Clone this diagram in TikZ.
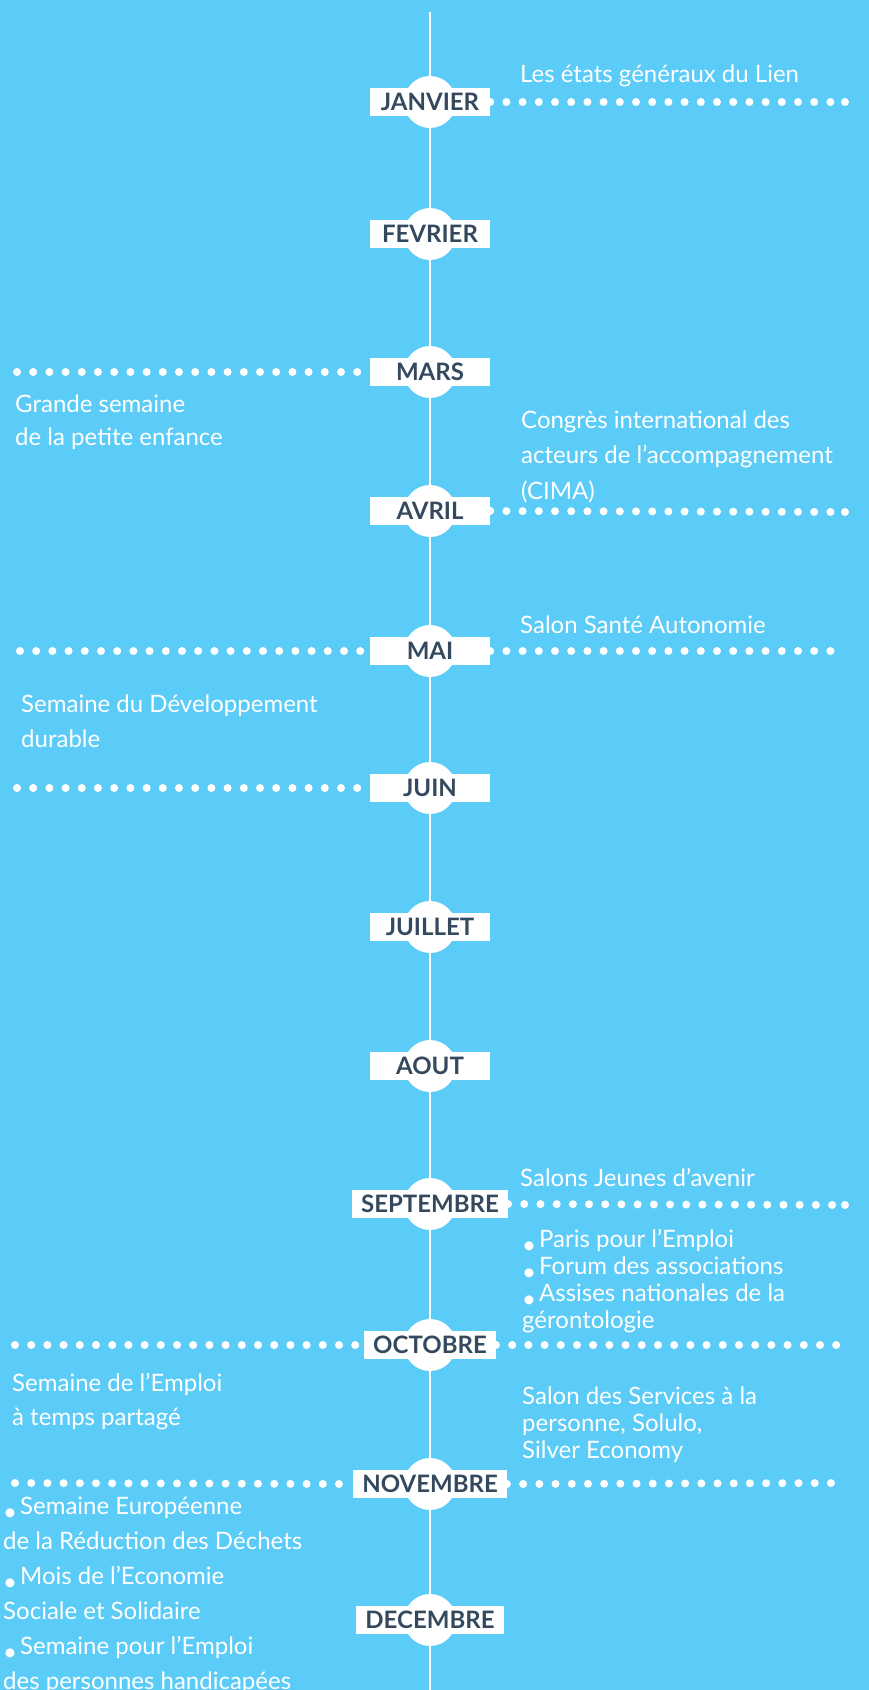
\documentclass[tikz,border=0pt]{standalone}
\usepackage{fontspec}
\setmainfont{Lato}
\usetikzlibrary{positioning, backgrounds}

\definecolor{sky}{HTML}{5BCBF7}
\definecolor{slate}{HTML}{34495E}

\newcommand{\bul}{\raisebox{-6pt}[0pt][0pt]{•}\hspace{3pt}}

\tikzset{
  month/.style={fill=white, text=slate, font=\bfseries\fontsize{24}{28}\selectfont,
    minimum width=120, minimum height=28, inner xsep=9, inner ysep=0},
  % multi-line texts are placed by the baseline of their last line
  evt/.style={text=white, font=\fontsize{24}{35}\selectfont, align=left,
    anchor=base west, inner sep=0},
  evttight/.style={evt, font=\fontsize{24}{26.7}\selectfont},
  dotline/.style={white, line width=8, line cap=round, dash pattern=on 0pt off 16.2pt},
}

\begin{document}
\begin{tikzpicture}[x=1pt, y=-1pt]
  \useasboundingbox (0,0) rectangle (869,1690);

  % Months
  \node[month] (jan) at (430,102) {JANVIER};
  \node[month] (feb) at (430,234) {FEVRIER};
  \node[month] (mar) at (430,372) {MARS};
  \node[month] (apr) at (430,511) {AVRIL};
  \node[month] (may) at (430,651) {MAI};
  \node[month] (jun) at (430,788) {JUIN};
  \node[month] (jul) at (430,927) {JUILLET};
  \node[month] (aug) at (430,1066) {AOUT};
  \node[month] (sep) at (430,1204) {SEPTEMBRE};
  \node[month] (oct) at (430,1345) {OCTOBRE};
  \node[month] (nov) at (430,1484) {NOVEMBRE};
  \node[month] (dec) at (430,1620) {DECEMBRE};

  % Background, timeline and discs
  \begin{scope}[on background layer]
    \fill[sky] (0,0) rectangle (869,1690);
    \coordinate (top) at (430,12);
    \coordinate (bottom) at (430,1690);
    \draw[white, line width=2] (top) -- (bottom);
    \foreach \m in {jan,feb,mar,apr,may,jun,jul,aug,sep,oct,nov,dec}
      \fill[white] (\m) circle (26pt);
  \end{scope}

  % Dotted connectors
  \coordinate (janR) at (845,102);
  \coordinate (marL) at (17,372);
  \coordinate (aprR) at (845,512);
  \coordinate (mayL) at (20,651);
  \coordinate (mayR) at (845,651);
  \coordinate (junL) at (17,788);
  \coordinate (sepR) at (845,1205);
  \coordinate (octL) at (15,1345);
  \coordinate (octR) at (845,1345);
  \coordinate (novL) at (15,1483);
  \coordinate (novR) at (840,1483);
  \draw[dotline] (jan.east) -- (janR);
  \draw[dotline] (marL) -- (mar.west);
  \draw[dotline] (apr.east) -- (aprR);
  \draw[dotline] (mayL) -- (may.west);
  \draw[dotline] (may.east) -- (mayR);
  \draw[dotline] (junL) -- (jun.west);
  \draw[dotline] (sep.east) -- (sepR);
  \draw[dotline] (octL) -- (oct.west);
  \draw[dotline] (oct.east) -- (octR);
  \draw[dotline] (novL) -- (nov.west);
  \draw[dotline] (nov.east) -- (novR);
  \fill[white] (janR) circle (4pt);
  \fill[white] (aprR) circle (4pt);
  \fill[white] (sepR) circle (4pt);

  % Events
  \node[evt] (etats) at (520,82) {Les états généraux du Lien};
  \node[evt, font=\fontsize{24}{33}\selectfont] (enfance) at (15,445)
    {Grande semaine\\de la petite enfance};
  \node[evt, font=\fontsize{24}{35.5}\selectfont] (cima) at (521,499)
    {Congrès international des\\acteurs de l'accompagnement\\(CIMA)};
  \node[evt] (sante) at (520,633) {Salon Santé Autonomie};
  \node[evt] (durable) at (21,747) {Semaine du Développement\\durable};
  \node[evt] (jeunes) at (520,1186) {Salons Jeunes d'avenir};
  \node[evttight] (forum) at (522,1328)
    {\bul Paris pour l'Emploi\\\bul Forum des associations\\\bul Assises nationales de la\\gérontologie};
  \node[evt, font=\fontsize{24}{34}\selectfont] (partage) at (12,1425)
    {Semaine de l'Emploi\\à temps partagé};
  \node[evttight] (services) at (522,1458)
    {Salon des Services à la\\personne, Solulo,\\Silver Economy};
  \node[evt] (dechets) at (3,1689)
    {\bul Semaine Européenne\\de la Réduction des Déchets\\\bul Mois de l'Economie\\Sociale et Solidaire\\\bul Semaine pour l'Emploi\\des personnes handicapées};
\end{tikzpicture}
\end{document}
